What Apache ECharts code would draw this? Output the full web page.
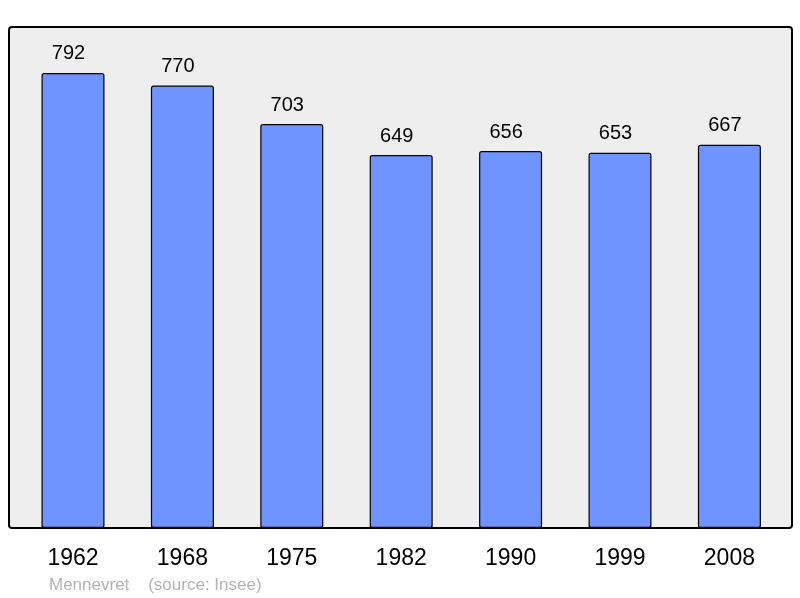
<!DOCTYPE html>
<html>
<head>
<meta charset="utf-8">
<script src="https://cdn.jsdelivr.net/npm/echarts@6/dist/echarts.min.js"></script>
<style>
html,body{margin:0;padding:0;background:#fff;}
#c{width:800px;height:598px;}
</style>
</head>
<body>
<div id="c"></div>
<script>
const years = ['1962','1968','1975','1982','1990','1999','2008'];
const population = [792, 770, 703, 649, 656, 653, 667];
const footerText = 'Mennevret    (source: Insee)';

const chart = echarts.init(document.getElementById('c'), null, {renderer: 'canvas'});
chart.setOption({
  animation: false,
  backgroundColor: '#ffffff',
  graphic: [
    {
      type: 'rect', z: -10,
      shape: {x: 9, y: 27, width: 783, height: 501, r: 3},
      style: {fill: '#eeeeee', stroke: '#000000', lineWidth: 2}
    },
    {
      type: 'text', left: 49, top: 577,
      style: {text: footerText, fill: '#b3b3b3', font: '17px "Liberation Sans", Arial, sans-serif'}
    }
  ],
  grid: {left: 18.3, right: 15.9, top: 27, bottom: 70, containLabel: false},
  xAxis: {
    type: 'category',
    data: years,
    axisLine: {show: false},
    axisTick: {show: false},
    axisLabel: {color: '#000', fontSize: 23, margin: 19, fontFamily: 'Liberation Sans, Arial, sans-serif'}
  },
  yAxis: {
    type: 'value', min: 0, max: 872,
    show: false,
    splitLine: {show: false}
  },
  series: [{
    type: 'bar',
    data: population,
    barWidth: 63,
    itemStyle: {color: '#7094ff', borderColor: '#000', borderWidth: 1.2, borderRadius: 2},
    label: {
      show: true, position: 'top', distance: 9, offset: [-4.5, 0],
      color: '#000', fontSize: 20, fontFamily: 'Liberation Sans, Arial, sans-serif'
    }
  }]
});
</script>
</body>
</html>
